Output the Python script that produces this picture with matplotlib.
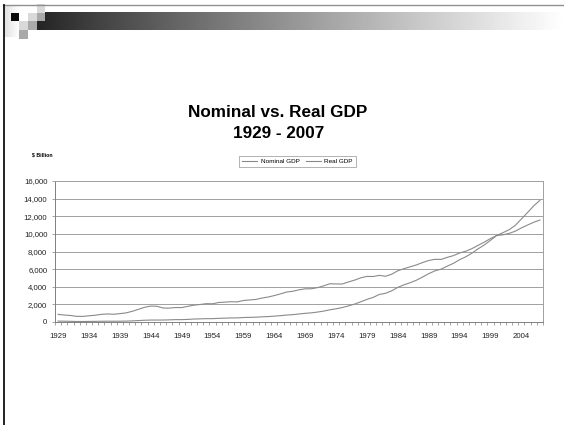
import numpy as np
import matplotlib
matplotlib.use("Agg")
import matplotlib.pyplot as plt
from matplotlib.patches import Rectangle
from matplotlib.lines import Line2D

plt.rcParams['font.family'] = ['Liberation Sans', 'DejaVu Sans']

years = list(range(1929, 2008))

nominal_gdp = [
    103.6, 91.2, 76.5, 58.7, 56.4, 66.0, 73.3, 83.8, 91.9, 86.1,
    92.2, 101.4, 126.7, 161.9, 198.6, 219.8, 223.0, 222.2, 244.1, 269.1,
    267.2, 293.7, 339.3, 358.3, 379.4, 380.4, 414.8, 437.5, 461.1, 467.2,
    506.6, 526.4, 544.7, 585.6, 617.7, 663.6, 719.1, 787.8, 832.6, 910.0,
    984.6, 1038.5, 1127.1, 1238.3, 1382.7, 1500.0, 1638.3, 1825.3, 2030.9, 2294.7,
    2563.3, 2789.5, 3128.4, 3255.0, 3536.7, 3933.2, 4220.3, 4462.8, 4739.5, 5103.8,
    5484.4, 5803.1, 5995.9, 6337.7, 6657.4, 7072.2, 7397.7, 7816.9, 8304.3, 8747.0,
    9268.4, 9817.0, 10128.0, 10469.6, 10960.8, 11685.9, 12421.9, 13178.4, 13807.5,
]

real_gdp = [
    865.2, 790.7, 739.9, 643.7, 635.5, 704.2, 766.9, 866.6, 911.1, 879.7,
    950.7, 1034.1, 1211.1, 1435.4, 1670.9, 1806.5, 1786.3, 1589.4, 1574.5, 1643.2,
    1634.6, 1777.3, 1915.0, 1988.3, 2079.5, 2065.4, 2212.8, 2255.8, 2301.1, 2279.2,
    2441.3, 2501.8, 2560.0, 2715.2, 2834.0, 2998.6, 3191.1, 3399.1, 3484.6, 3652.7,
    3765.4, 3771.9, 3898.6, 4105.0, 4341.5, 4319.6, 4311.2, 4540.9, 4750.5, 5015.0,
    5173.4, 5161.7, 5291.7, 5189.3, 5423.8, 5813.6, 6053.7, 6263.6, 6475.1, 6742.7,
    6981.4, 7112.5, 7100.5, 7336.6, 7532.7, 7835.5, 8031.7, 8328.9, 8703.5, 9066.9,
    9470.3, 9817.0, 9890.7, 10048.8, 10301.0, 10675.8, 11003.4, 11319.4, 11566.8,
]

series_names = ["Nominal GDP", "Real GDP"]
y_ticks = [0, 2000, 4000, 6000, 8000, 10000, 12000, 14000, 16000]
title_lines = ["Nominal vs. Real GDP", "1929 - 2007"]
unit_label = "$ Billion"

W, H = 564, 425
fig = plt.figure(figsize=(W / 100, H / 100), dpi=100)
fig.patch.set_facecolor("white")

# Slide background layer in pixel coordinates
bg = fig.add_axes([0, 0, 1, 1], zorder=0)
bg.set_xlim(0, W)
bg.set_ylim(H, 0)
bg.axis("off")

# Header gradient bar (dark to white)
grad = np.linspace(0.10, 1.0, 512) ** 0.85
bg.imshow(np.tile(grad, (2, 1)), cmap="gray", vmin=0, vmax=1,
          extent=[36.7, W, 30, 12.7], aspect="auto", zorder=1)

# Soft light block at the left of the header
lgrad = np.linspace(0.88, 1.0, 64)
bg.imshow(np.tile(lgrad, (2, 1)), cmap="gray", vmin=0, vmax=1,
          extent=[4, 19.3, 37, 5], aspect="auto", zorder=1)

# Checker squares
s = 8.7
cols = [10.7, 19.3, 28.0, 36.7]
rows = [4.0, 12.7, 21.3, 30.0]
squares = [
    (0, 1, "#0a0a0a"),
    (2, 1, "#d9d9d9"),
    (3, 0, "#d9d9d9"),
    (3, 1, "#a9a9a9"),
    (1, 2, "#d9d9d9"),
    (2, 2, "#a9a9a9"),
    (1, 3, "#a9a9a9"),
]
for c, r, col in squares:
    bg.add_patch(Rectangle((cols[c], rows[r]), s, s, facecolor=col,
                           edgecolor="none", zorder=2))

# Frame lines of the slide
bg.add_line(Line2D([3, W], [5, 5], color="#909090", lw=1.0, zorder=3))
bg.add_line(Line2D([4, 4], [5, H], color="#111111", lw=1.3, zorder=3))

# Titles
bg.text(278, 112, title_lines[0], ha="center", va="center",
        fontsize=12.3, fontweight="bold", color="black", zorder=4)
bg.text(279, 133, title_lines[1], ha="center", va="center",
        fontsize=12.3, fontweight="bold", color="black", zorder=4)
bg.text(32, 155, unit_label, ha="left", va="center",
        fontsize=3.8, fontweight="bold", color="black", zorder=4)

# Chart area
x0, x1, ytop, ybot = 55, 543, 181, 322
ax = fig.add_axes([x0 / W, (H - ybot) / H, (x1 - x0) / W, (ybot - ytop) / H],
                  zorder=2)
ax.set_facecolor("none")

x = np.arange(len(years))
line_color = "#8a8a8a"
ax.plot(x, nominal_gdp, color=line_color, lw=0.8, label=series_names[0])
ax.plot(x, real_gdp, color=line_color, lw=0.8, label=series_names[1])

ax.set_xlim(-0.5, len(years) - 0.5)
ax.set_ylim(0, 16000)
ax.set_yticks(y_ticks)
ax.set_yticklabels([f"{v:,}" for v in y_ticks])
ax.yaxis.grid(True, color="#a0a0a0", lw=0.7)
ax.set_axisbelow(True)

label_idx = list(range(0, len(years), 5))
ax.set_xticks(label_idx)
ax.set_xticklabels([str(years[i]) for i in label_idx])
ax.set_xticks(np.arange(-0.5, len(years), 1.0), minor=True)
ax.tick_params(axis="x", which="major", length=0, pad=8, labelsize=5.6,
               labelcolor="#222222")
ax.tick_params(axis="x", which="minor", length=2.5, width=0.5, color="#808080")
ax.tick_params(axis="y", length=2.5, width=0.5, color="#808080", pad=3,
               labelsize=5.6, labelcolor="#222222")

for side in ["top", "right"]:
    ax.spines[side].set_color("#a0a0a0")
    ax.spines[side].set_linewidth(0.7)
for side in ["left", "bottom"]:
    ax.spines[side].set_color("#808080")
    ax.spines[side].set_linewidth(0.7)

leg = fig.legend(loc="center", bbox_to_anchor=(297.5 / W, 1 - 161.5 / H),
                 ncol=2, fontsize=4.6, frameon=True, fancybox=False,
                 handlelength=2.4, handletextpad=0.5, columnspacing=1.0,
                 borderpad=0.5, borderaxespad=0)
leg.get_frame().set_edgecolor("#909090")
leg.get_frame().set_linewidth(0.6)

fig.savefig("out.png", dpi=100, facecolor="white")
